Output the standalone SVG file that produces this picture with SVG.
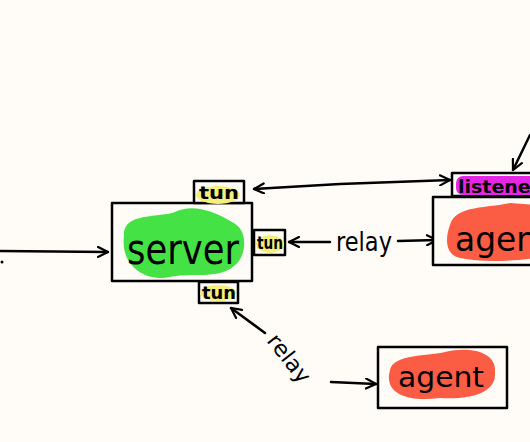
<svg xmlns="http://www.w3.org/2000/svg" width="530" height="442" viewBox="0 0 530 442">
<style>
.box{fill:#fffcf8;stroke:#000;stroke-width:2.5;stroke-linejoin:round}
.ln{fill:none;stroke:#000;stroke-width:2.5;stroke-linecap:round;stroke-linejoin:round}
.t{font-family:"Comic Sans MS","DejaVu Sans",sans-serif;fill:#000}
.tun{font-size:17px;font-weight:bold}
</style>
<defs>
<marker id="ah" viewBox="0 0 12 12" refX="11" refY="6" markerWidth="12" markerHeight="12" markerUnits="userSpaceOnUse" orient="auto-start-reverse">
<path d="M1,1 L11,6 L1,11" fill="none" stroke="#000" stroke-width="2.2" stroke-linecap="round"/>
</marker>
</defs>
<rect width="530" height="442" fill="#fffcf8"/>
<g id="connectors">
<path class="ln" d="M0,251 L108,252" marker-end="url(#ah)"/>
<circle cx="2" cy="262" r="1.5" fill="#000"/>
<path class="ln" d="M254,189 L340,184 L450,180" marker-start="url(#ah)" marker-end="url(#ah)"/>
<path class="ln" d="M289,242 L330,242" marker-start="url(#ah)"/>
<path class="ln" d="M398,241 L437,240" marker-end="url(#ah)"/>
<path class="ln" d="M265,333 L231,308" marker-end="url(#ah)"/>
<path class="ln" d="M331,382 L376,384" marker-end="url(#ah)"/>
<path class="ln" d="M530,135 L513,170" marker-end="url(#ah)"/>
<text class="t" x="336" y="251" font-size="26" textLength="56" lengthAdjust="spacingAndGlyphs">relay</text>
<text class="t" transform="translate(266,341) rotate(52)" font-size="22" textLength="56" lengthAdjust="spacingAndGlyphs">relay</text>
</g>
<g id="server">
<rect class="box" x="112" y="203" width="140" height="78"/>
<path d="M124,236 C122,212 160,218 175,212 C192,204 212,210 232,222 C250,230 246,258 234,266 C218,280 190,272 170,277 C148,282 120,268 124,236 Z" fill="#44e244"/>
<text class="t" x="127" y="264" font-size="42" textLength="112" lengthAdjust="spacingAndGlyphs">server</text>
</g>
<g id="tun-top">
<rect class="box" x="194" y="181" width="50" height="22"/>
<ellipse cx="218" cy="195" rx="22" ry="9" fill="#f3ef7a"/>
<text class="t tun" x="199" y="199" textLength="40" lengthAdjust="spacingAndGlyphs">tun</text>
</g>
<g id="tun-right">
<rect class="box" x="254" y="230" width="31" height="25"/>
<ellipse cx="270" cy="244" rx="14" ry="9" fill="#f3ef7a"/>
<text class="t tun" x="257" y="249" textLength="26" lengthAdjust="spacingAndGlyphs">tun</text>
</g>
<g id="tun-bottom">
<rect class="box" x="199" y="282" width="39" height="21"/>
<ellipse cx="218" cy="293" rx="18" ry="8" fill="#f3ef7a"/>
<text class="t tun" x="202" y="299" textLength="34" lengthAdjust="spacingAndGlyphs">tun</text>
</g>
<g id="listener">
<rect class="box" x="452" y="173" width="90" height="23"/>
<rect x="456" y="176" width="80" height="19" rx="7" fill="#e526e5"/>
<text class="t" x="458" y="193" font-size="18" font-weight="bold" textLength="82" lengthAdjust="spacingAndGlyphs">listener</text>
</g>
<g id="agent-right">
<rect class="box" x="433" y="197" width="110" height="68"/>
<path d="M450,225 C455,205 490,208 510,203 L535,205 L535,258 C505,262 480,262 460,258 C445,255 445,238 450,225 Z" fill="#fb5c44"/>
<text class="t" x="455" y="251" font-size="34" textLength="95" lengthAdjust="spacingAndGlyphs">agent</text>
</g>
<g id="agent-bottom">
<rect class="box" x="378" y="347" width="129" height="61"/>
<path d="M390,370 C393,354 430,356 445,352 C470,346 497,352 495,372 C497,393 470,400 440,398 C410,402 383,395 390,370 Z" fill="#fb5c44"/>
<text class="t" x="398" y="387" font-size="28" textLength="86" lengthAdjust="spacingAndGlyphs">agent</text>
</g>
</svg>
